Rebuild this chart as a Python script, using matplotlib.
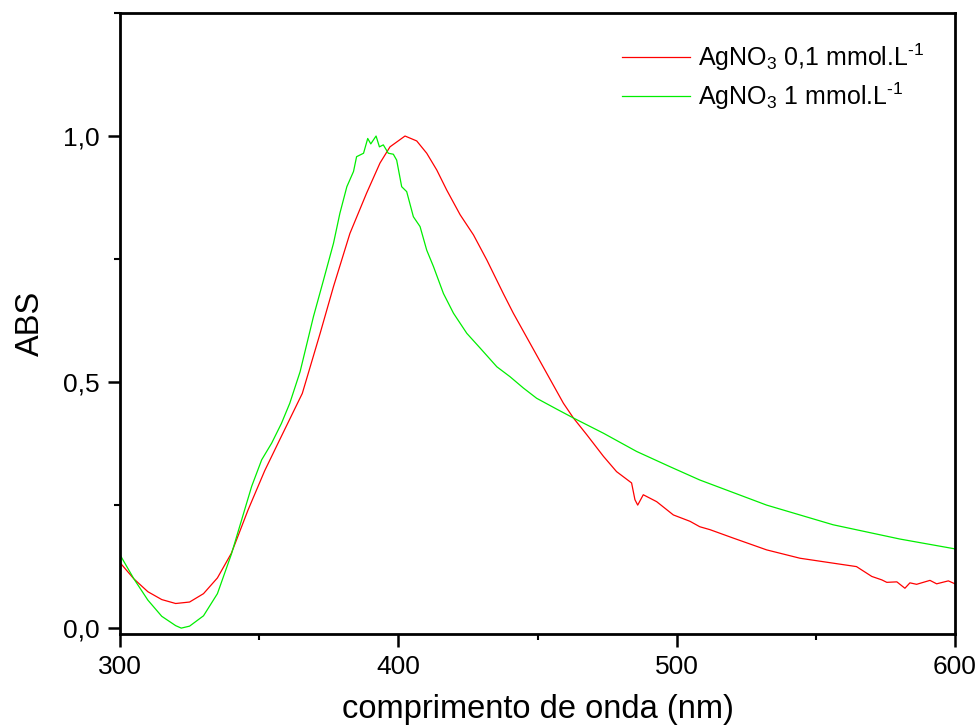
import matplotlib
matplotlib.use("Agg")
import matplotlib.pyplot as plt
from matplotlib.ticker import MultipleLocator

plt.rcParams["font.family"] = ["Liberation Sans", "DejaVu Sans"]
plt.rcParams["mathtext.fontset"] = "custom"
plt.rcParams["mathtext.rm"] = "Liberation Sans"
plt.rcParams["mathtext.it"] = "Liberation Sans"

# AgNO3 0,1 mmol/L (red)
red_nm = [300, 305, 310, 315, 320, 325, 330, 335, 340, 346, 352, 358, 365.5, 371.9,
          376.7, 382.6, 388.6, 393.4, 397, 402.4, 406.6, 410.2, 413.8, 417.4, 422.2,
          427, 431.8, 437.7, 441.3, 447.3, 453.3, 459.3, 462.9, 467.7, 473.7, 478.4,
          483.8, 485, 486, 488, 492.8, 498.8, 504.8, 508.3, 512, 520.3, 532.3, 544.3,
          556.2, 564.6, 570.1, 573.7, 575.5, 579.1, 582, 583.8, 586.2, 591, 593.4,
          597.6, 600]
red_abs = [0.133, 0.100, 0.074, 0.058, 0.050, 0.053, 0.070, 0.102, 0.152, 0.24, 0.32, 0.39,
           0.477, 0.599, 0.694, 0.802, 0.884, 0.945, 0.978, 1.0, 0.990, 0.965, 0.931, 0.890,
           0.840, 0.799, 0.748, 0.680, 0.640, 0.579, 0.518, 0.457, 0.427, 0.393, 0.349, 0.318,
           0.295, 0.261, 0.250, 0.271, 0.257, 0.230, 0.217, 0.206, 0.200, 0.183, 0.159, 0.142,
           0.132, 0.125, 0.105, 0.098, 0.093, 0.094, 0.081, 0.092, 0.089, 0.097, 0.090,
           0.096, 0.090]

# AgNO3 1 mmol/L (green)
green_nm = [300, 305, 310, 315, 320, 322, 325, 330, 335, 340, 343.7, 347.3, 350.9, 354.5,
            358, 361, 364.7, 369.5, 373.1, 376.7, 379, 381.5, 383.9, 385, 387.5, 389, 390.1,
            392, 393.2, 394.6, 396.4, 398.2, 399.4, 401.2, 403, 405.4, 407.8, 410.2,
            412.6, 416.2, 419.8, 424.6, 429.4, 435.4, 440.1, 444.9, 449.7, 456.9, 462.9,
            473.7, 485.6, 497.6, 508.3, 532.3, 556.2, 580.2, 600]
green_abs = [0.149, 0.100, 0.057, 0.024, 0.005, 0.0, 0.004, 0.025, 0.070, 0.150, 0.22, 0.288,
             0.342, 0.376, 0.416, 0.457, 0.521, 0.633, 0.707, 0.782, 0.843, 0.897, 0.928, 0.958,
             0.965, 0.995, 0.984, 1.0, 0.978, 0.982, 0.965, 0.963, 0.951, 0.897, 0.887, 0.836,
             0.816, 0.768, 0.735, 0.680, 0.640, 0.599, 0.569, 0.531, 0.511, 0.488, 0.467, 0.445,
             0.427, 0.396, 0.359, 0.328, 0.301, 0.250, 0.210, 0.181, 0.161]

x_ticks = [300, 400, 500, 600]
y_ticks = [0.0, 0.5, 1.0]
y_labels = ["0,0", "0,5", "1,0"]

fig = plt.figure(figsize=(9.78, 7.26), dpi=100)
ax = fig.add_axes([0.1227, 0.1267, 0.8538, 0.8554])

ax.plot(red_nm, red_abs, color="#ff0000", lw=0.9,
        label=r"AgNO$_3$ 0,1 mmol.L$^{\text{-}1}$")
ax.plot(green_nm, green_abs, color="#00ee00", lw=0.9,
        label=r"AgNO$_3$ 1 mmol.L$^{\text{-}1}$")

ax.set_xlim(300, 600)
ax.set_ylim(-0.012, 1.25)
ax.set_xticks(x_ticks)
ax.set_yticks(y_ticks, y_labels)
ax.xaxis.set_minor_locator(MultipleLocator(50))
ax.yaxis.set_minor_locator(MultipleLocator(0.25))
ax.tick_params(which="major", direction="out", length=9, width=1.8, labelsize=19, pad=6)
ax.tick_params(which="minor", direction="out", length=4.5, width=1.5)
for s in ax.spines.values():
    s.set_linewidth(2)

ax.set_xlabel("comprimento de onda (nm)", fontsize=23.5, labelpad=11)
ax.set_ylabel("ABS", fontsize=23.5, labelpad=12)

ax.legend(loc="upper right", bbox_to_anchor=(0.99, 0.99), frameon=False, fontsize=18,
          handlelength=2.75, handletextpad=0.3, labelspacing=0.3)

fig.savefig("out.png", dpi=100)
